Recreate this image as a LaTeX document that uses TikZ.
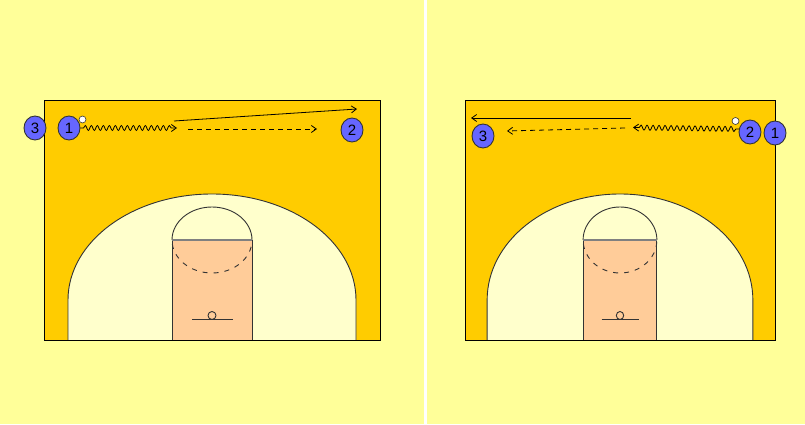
\documentclass[tikz,border=0pt]{standalone}
\usepackage{fontspec}
\setmainfont{Liberation Sans}
\usetikzlibrary{arrows.meta,decorations.pathmorphing,shapes.geometric}
\definecolor{panelbg}{HTML}{FFFF99}
\definecolor{courtbg}{HTML}{FFCC00}
\definecolor{arcbg}{HTML}{FFFFCC}
\definecolor{lanebg}{HTML}{FFCC99}
\definecolor{playerbg}{HTML}{6666FF}
\definecolor{lineclr}{HTML}{333333}
\begin{document}
\begin{tikzpicture}[x=1pt,y=-1pt,line width=0.9pt,
  player/.style={ellipse,draw=lineclr,fill=playerbg,minimum width=22pt,minimum height=24pt,inner sep=0pt,font=\fontsize{15}{15}\selectfont},
  ball/.style={circle,draw=lineclr,fill=white,minimum size=7pt,inner sep=0pt,line width=0.6pt},
  pass/.style={-{Straight Barb[length=5pt,width=7pt]},line width=0.8pt},
  cut/.style={pass,dash pattern=on 5pt off 4pt},
  dribble/.style={pass,decorate,decoration={snake,segment length=6pt,amplitude=2.5pt,pre length=3pt,post length=4pt}}]
\useasboundingbox (0,0) rectangle (805,425);
\fill[white] (0,0) rectangle (805,425);
\fill[panelbg] (0,0) rectangle (424,424);
\fill[panelbg] (427,0) rectangle (805,424);
\foreach \cx/\cw in {44/1,465/0.9226}{
  \begin{scope}[shift={(\cx,100)},xscale=\cw]
    \fill[courtbg] (0,0) rectangle (336,240);
    \fill[arcbg] (24,240) -- (24,200) arc[start angle=180,end angle=360,x radius=144,y radius=106] -- (312,240) -- cycle;
    \draw[lineclr] (24,240) -- (24,200) arc[start angle=180,end angle=360,x radius=144,y radius=106] -- (312,240);
    \filldraw[fill=lanebg,draw=lineclr] (128,140) rectangle (208,240);
    \draw[lineclr] (128,140) arc[start angle=180,end angle=360,x radius=40,y radius=33];
    \draw[lineclr,dash pattern=on 5pt off 6pt,dash phase=7pt] (128,140) arc[start angle=180,end angle=0,x radius=40,y radius=33];
    \draw[gray,line width=1.6pt] (128,140) -- (208,140);
    \draw[lineclr] (168,215.5) circle[radius=4];
    \draw[lineclr] (148,219.5) -- (189,219.5);
    \draw[black] (0,0) rectangle (336,240);
  \end{scope}
}
\node[player] (lthree) at (35,128) {3};
\node[player] (lone) at (69,128) {1};
\node[player] (ltwo) at (352,130) {2};
\node[ball] (lball) at (82.5,119.5) {};
\coordinate (ldribble) at (177,128);
\coordinate (lcutstart) at (188,129);
\coordinate (lcutend) at (317,129);
\coordinate (lpassstart) at (174,121);
\coordinate (lpassend) at (357,109);
\draw[dribble] (lone.east) -- (ldribble);
\draw[cut] (lcutstart) -- (lcutend);
\draw[pass] (lpassstart) -- (lpassend);
\node[player] (rthree) at (483,136) {3};
\node[player] (rtwo) at (750,132) {2};
\node[player] (rone) at (775,133) {1};
\node[ball] (rball) at (735.5,121) {};
\coordinate (rdribble) at (633,127.5);
\coordinate (rcutstart) at (625,128);
\coordinate (rcutend) at (507,131);
\coordinate (rpassstart) at (631,118);
\coordinate (rpassend) at (471,118);
\draw[dribble] (rtwo.165) -- (rdribble);
\draw[cut] (rcutstart) -- (rcutend);
\draw[pass] (rpassstart) -- (rpassend);
\end{tikzpicture}
\end{document}
